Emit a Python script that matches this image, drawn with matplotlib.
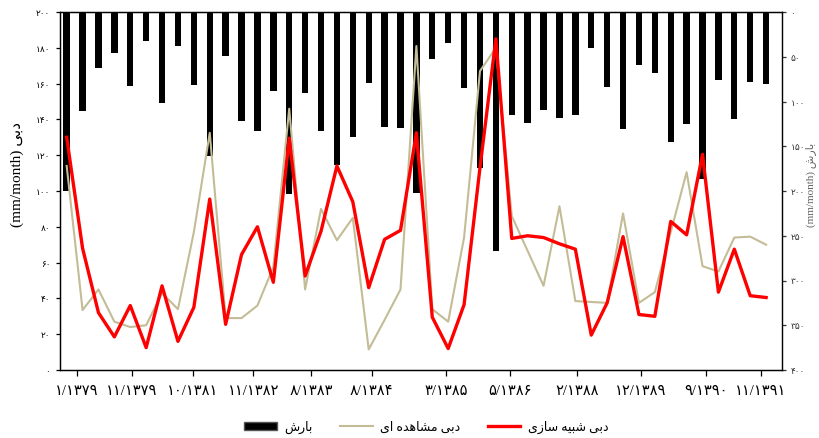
import numpy as np
import matplotlib
matplotlib.use('Agg')
import matplotlib.pyplot as plt
from matplotlib.patches import Patch
from matplotlib.lines import Line2D

# بارش (mm/month), hangs from the top on the right axis
rain = [200, 111, 63, 46, 83, 32, 102, 38, 82, 161, 49, 122, 133, 88, 203,
        90, 133, 171, 140, 79, 128, 130, 202, 53, 35, 85, 174, 267, 115, 124,
        110, 118, 115, 40, 84, 131, 59, 68, 145, 125, 187, 76, 120, 78, 81]

# دبی مشاهده ای
obs = [114, 33.5, 45, 27, 24, 25, 43, 34, 77, 132.5, 29, 29, 36, 57.5, 146,
       45, 90, 72.5, 85, 11.5, 28, 45, 181, 34, 27, 74, 167, 180, 86, 66.5,
       47, 91.5, 38.5, 38, 37.5, 87.5, 37.5, 43.5, 77, 110.5, 58, 55, 74, 74.5, 70]

# دبی شبیه سازی
sim = [130, 68, 32, 18.5, 36, 12.5, 47, 16, 35, 95.5, 25.5, 64.5, 80, 49, 129.5,
       52.5, 77.5, 114, 94, 46, 73, 78, 132.5, 29.5, 12, 36.5, 113, 185, 73.5, 75,
       74, 70.5, 67.5, 19.5, 37.5, 74.5, 31, 30, 83, 75.5, 120.5, 43.5, 67.5, 41.5, 40.5]

xlabels = ['۱/۱۳۷۹', '۱۱/۱۳۷۹', '۱۰/۱۳۸۱', '۱۱/۱۳۸۲', '۸/۱۳۸۳', '۸/۱۳۸۴',
           '۳/۱۳۸۵', '۵/۱۳۸۶', '۲/۱۳۸۸', '۱۲/۱۳۸۹', '۹/۱۳۹۰', '۱۱/۱۳۹۱']
xtick_pos = [0.63, 4.09, 7.92, 11.74, 15.36, 19.18, 23.85, 27.87, 32.1, 36.1, 40.25, 43.67]

FA_DIGITS = '۰۱۲۳۴۵۶۷۸۹'

# presentation forms: isolated, final, initial, medial
FORMS = {
    'ا': ('\uFE8D', '\uFE8E', None, None),
    'ب': ('\uFE8F', '\uFE90', '\uFE91', '\uFE92'),
    'د': ('\uFEA9', '\uFEAA', None, None),
    'ر': ('\uFEAD', '\uFEAE', None, None),
    'ز': ('\uFEAF', '\uFEB0', None, None),
    'س': ('\uFEB1', '\uFEB2', '\uFEB3', '\uFEB4'),
    'ش': ('\uFEB5', '\uFEB6', '\uFEB7', '\uFEB8'),
    'م': ('\uFEE1', '\uFEE2', '\uFEE3', '\uFEE4'),
    'ه': ('\uFEE9', '\uFEEA', '\uFEEB', '\uFEEC'),
    'ی': ('\uFEEF', '\uFEF0', '\uFEF3', '\uFEF4'),
}


def fa(text):
    # shape persian letters by hand, matplotlib does no bidi
    out = []
    for i, ch in enumerate(text):
        if ch not in FORMS:
            out.append(ch)
            continue
        prev = text[i - 1] if i > 0 else ''
        nxt = text[i + 1] if i + 1 < len(text) else ''
        jp = prev in FORMS and FORMS[prev][2] is not None
        jn = nxt in FORMS and FORMS[ch][2] is not None
        iso, fin, ini, med = FORMS[ch]
        if jp and jn:
            out.append(med)
        elif jp:
            out.append(fin)
        elif jn:
            out.append(ini)
        else:
            out.append(iso)
    return ''.join(reversed(out))


def fanum(v):
    return ''.join(FA_DIGITS[int(c)] for c in str(v))


FAM = ['Liberation Serif', 'DejaVu Sans']
plt.rcParams['font.family'] = FAM

x = np.arange(len(rain))

fig = plt.figure(figsize=(8.2, 4.39), dpi=100)
ax = fig.add_axes([60 / 820, 68 / 439, 722 / 820, 358 / 439])
ax2 = ax.twinx()

ax2.bar(x, rain, width=0.4, color='black')
ax2.set_ylim(400, 0)
ax2.set_yticks(range(0, 401, 50))
ax2.set_yticklabels([fanum(v) for v in range(0, 401, 50)], fontsize=6.5)

ax.plot(x, obs, color='#c4bc96', lw=1.5, zorder=3)
ax.plot(x, sim, color='#ff0000', lw=2.4, zorder=4)
ax.set_ylim(0, 200)
ax.set_yticks(range(0, 201, 20))
ax.set_yticklabels([fanum(v) for v in range(0, 201, 20)], fontsize=6.5)
ax.set_xlim(-0.42, 45.0)
ax.set_xticks(xtick_pos)
ax.set_xticklabels(xlabels, fontsize=10.5)

ax.set_zorder(ax2.get_zorder() + 1)
ax.patch.set_visible(False)

for a in (ax, ax2):
    for s in a.spines.values():
        s.set_linewidth(0.9)
        s.set_color('black')
ax2.spines['right'].set_color('#444444')
ax.tick_params(axis='x', length=4, width=0.9, pad=6)
ax.tick_params(axis='y', length=3, width=0.9, pad=4)
ax2.tick_params(axis='y', length=3, width=0.9, pad=3, colors='#333333')

ax.set_ylabel('(mm/month) ' + fa('دبی'), fontsize=11, rotation=90)
ax.yaxis.set_label_coords(-0.05, 0.55)
fig.text(811 / 820, 1 - 185 / 439, '(mm/month) ' + fa('بارش'), fontsize=8,
         rotation=90, color='#666666', ha='center', va='center')

handles = [Patch(facecolor='black', edgecolor='#555555'),
           Line2D([], [], color='#c4bc96', lw=1.5),
           Line2D([], [], color='#ff0000', lw=2.4)]
names = [fa('بارش'), fa('دبی مشاهده ای'), fa('دبی شبیه سازی')]
fig.legend(handles, names, loc='center', bbox_to_anchor=(0.52, 0.026), ncol=3,
           frameon=False, fontsize=9, handlelength=2.6, handleheight=0.6,
           columnspacing=2.2, handletextpad=0.6)

fig.savefig('out.png', dpi=100)
